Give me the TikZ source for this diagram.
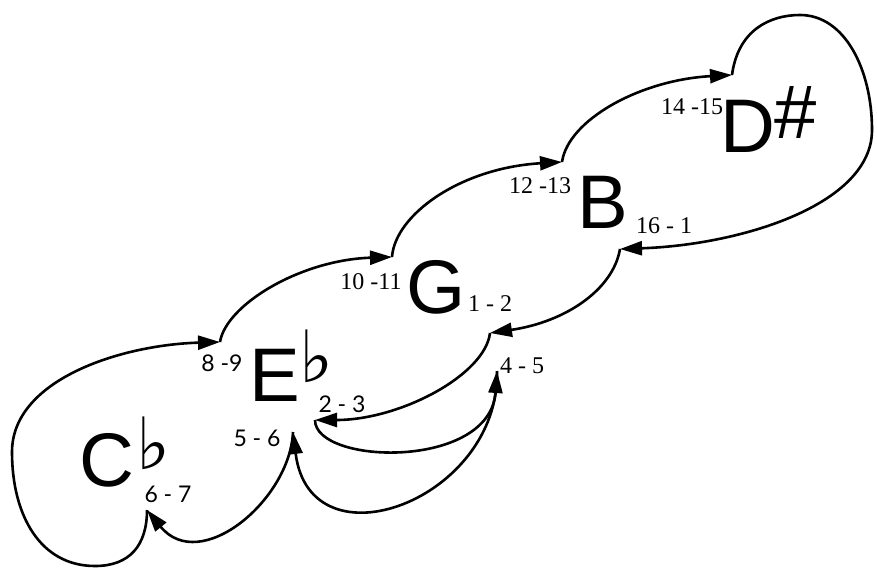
\documentclass[tikz,border=0pt]{standalone}
\usepackage{fontspec}
\setmainfont{Liberation Sans}
\newfontfamily\serifl{Liberation Serif}
\newfontfamily\latofam{Lato}
\newfontfamily\djsymb{DejaVu Sans}
\usetikzlibrary{arrows.meta}
\begin{document}
\begin{tikzpicture}[x=1pt,y=-1pt,
 big/.style={inner sep=0pt,font=\fontsize{76}{76}\selectfont},
 flatsign/.style={inner sep=0pt,font=\djsymb\fontsize{72}{72}\selectfont},
 lab/.style={inner sep=0pt,font=\serifl\fontsize{24}{24}\selectfont},
 labs/.style={inner sep=0pt,font=\latofam\fontsize{23}{23}\selectfont},
 conn/.style={line width=2.6pt,-{Triangle[length=22pt,width=14pt]}}
]
\useasboundingbox (0,0) rectangle (877,567);
% note names
\node[big] (C) at (107,460) {C};
\node[flatsign] (Cf) at (153,443) {♭};
\node[labs] (l67) at (168,494) {6 - 7};
\node[big] (E) at (275,375) {E};
\node[flatsign] (Ef) at (316,356) {♭};
\node[labs] (l23) at (342,404) {2 - 3};
\node[labs] (l89) at (222,363) {8 -9};
\node[labs] (l56) at (257,438) {5 - 6};
\node[big] (G) at (436,287) {G};
\node[lab] (l12) at (490,304) {1 - 2};
\node[lab] (l1011) at (371,282) {10 -11};
\node[big] (B) at (603,202) {B};
\node[lab] (l1213) at (540,186) {12 -13};
\node[lab] (l161) at (664,226) {16 - 1};
\node[big] (D) at (748,126) {D};
\node[big] (Ds) at (796,113) {\#};
\node[lab] (l1415) at (692,107) {14 -15};
\node[lab] (l45) at (522,366) {4 - 5};
% cusp points
\coordinate (p67) at (147,510);
\coordinate (p89) at (220,342);
\coordinate (p1011) at (392,257);
\coordinate (p1213) at (562,162);
\coordinate (p1415) at (732,75);
\coordinate (p161) at (620,249);
\coordinate (p12) at (490,333);
\coordinate (p23) at (315,420);
\coordinate (p45) at (497,371);
\coordinate (p56) at (293,432);
% connectors
\draw[conn] (p67) .. controls (147,545) and (130,566) .. (95,566) .. controls (40,566) and (12,515) .. (12,452) .. controls (12,380) and (120,345) .. (p89);
\draw[conn] (p89) .. controls (226,305) and (300,260) .. (p1011);
\draw[conn] (p1011) .. controls (395,215) and (460,168) .. (p1213);
\draw[conn] (p1213) .. controls (568,120) and (640,80) .. (p1415);
\draw[conn] (p1415) .. controls (738,30) and (770,15) .. (800,15) .. controls (845,15) and (872,70) .. (872,130) .. controls (872,205) and (740,245) .. (p161);
\draw[conn] (p161) .. controls (613,290) and (565,322) .. (p12);
\draw[conn] (p12) .. controls (485,375) and (400,420) .. (p23);
\draw[conn] (p23) .. controls (315,465) and (490,470) .. (p45);
\draw[conn] (p45) .. controls (500,500) and (310,570) .. (p56);
\draw[conn] (p56) .. controls (290,500) and (200,575) .. (p67);
\end{tikzpicture}
\end{document}
